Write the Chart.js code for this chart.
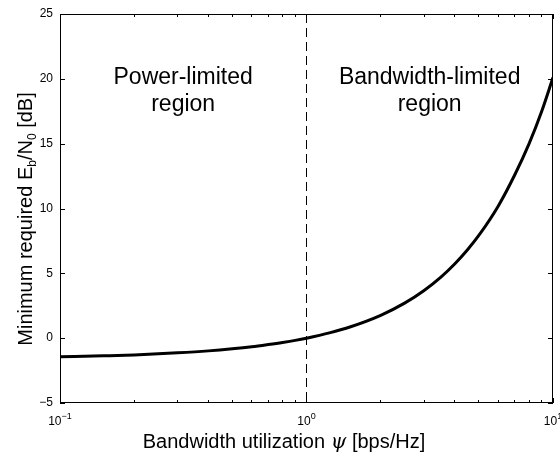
<!DOCTYPE html>
<html>
<head>
<meta charset="utf-8">
<script src="https://cdn.jsdelivr.net/npm/chart.js@4.4.1/dist/chart.umd.min.js"></script>
<style>
  html, body { margin: 0; padding: 0; background: #fff; }
  #wrap { width: 560px; height: 461px; position: relative; }
</style>
</head>
<body>
<div id="wrap"><canvas id="chart" width="560" height="461"></canvas></div>
<script>
"use strict";

// Shannon-limit curve: minimum Eb/N0 (dB) against bandwidth utilization (bps/Hz)
const psi = [0.1, 0.15, 0.2, 0.3, 0.4, 0.5, 0.6, 0.7, 0.8, 0.9, 1,
             1.25, 1.5, 2, 2.5, 3, 3.5, 4, 4.5, 5, 6, 7, 8, 9, 10];
const ebnoDb = [-1.44, -1.36, -1.29, -1.13, -0.98, -0.82, -0.66, -0.49, -0.33, -0.17, 0,
                0.43, 0.86, 1.76, 2.70, 3.68, 4.69, 5.74, 6.82, 7.92, 10.2, 12.6, 15.0, 17.5, 20.1];

// boundary between the two regions, drawn top-down
const boundaryX = [1, 1];
const boundaryY = [25, -5];

const xDecades = [0.1, 1, 10];
const xExponents = ["-1", "0", "1"];
const yTicks = [-5, 0, 5, 10, 15, 20, 25];

const regionLabels = [
  { x: 0.316, y: 19.6, lines: ["Power-limited", "region"] },
  { x: 3.16, y: 19.6, lines: ["Bandwidth-limited", "region"] },
];

const FONT = "'Liberation Sans', Arial, sans-serif";

const axesPlugin = {
  id: "matlabAxes",
  afterDraw(chart) {
    const { ctx, chartArea: a, scales: { x, y } } = chart;
    ctx.save();
    ctx.strokeStyle = "#000";
    ctx.fillStyle = "#000";
    ctx.lineWidth = 1;

    // box
    ctx.strokeRect(a.left + 0.5, a.top + 0.5, a.right - a.left - 1, a.bottom - a.top - 1);

    // log x ticks, inward on bottom and top
    ctx.beginPath();
    for (let d = 0; d < xDecades.length; d++) {
      const base = xDecades[d];
      for (let k = 1; k <= 9; k++) {
        const v = base * k;
        if (v > 10) break;
        const px = Math.floor(x.getPixelForValue(v)) + 0.5;
        const len = k === 1 ? 5 : 3;
        ctx.moveTo(px, a.bottom);
        ctx.lineTo(px, a.bottom - len);
        ctx.moveTo(px, a.top);
        ctx.lineTo(px, a.top + len);
      }
    }
    // y ticks, inward on left and right
    for (const v of yTicks) {
      const py = Math.round(y.getPixelForValue(v)) + 0.5;
      ctx.moveTo(a.left, py);
      ctx.lineTo(a.left + 5, py);
      ctx.moveTo(a.right, py);
      ctx.lineTo(a.right - 5, py);
    }
    ctx.stroke();

    // y tick labels
    ctx.font = `12px ${FONT}`;
    ctx.textAlign = "right";
    ctx.textBaseline = "middle";
    for (const v of yTicks) {
      const label = v < 0 ? "\u2212" + Math.abs(v) : String(v);
      ctx.fillText(label, a.left - 7, y.getPixelForValue(v));
    }

    // x tick labels: 10 with superscript exponent
    ctx.textBaseline = "alphabetic";
    ctx.textAlign = "left";
    xDecades.forEach((v, i) => {
      const px = x.getPixelForValue(v);
      ctx.font = `12px ${FONT}`;
      const wBase = ctx.measureText("10").width;
      ctx.font = `9px ${FONT}`;
      const exp = xExponents[i].replace("-", "\u2212");
      const wExp = ctx.measureText(exp).width;
      const start = px - (wBase + wExp) / 2;
      ctx.font = `12px ${FONT}`;
      ctx.fillText("10", start, a.bottom + 22);
      ctx.font = `9px ${FONT}`;
      ctx.fillText(exp, start + wBase, a.bottom + 16);
    });

    // region annotations
    ctx.font = `23px ${FONT}`;
    ctx.textAlign = "center";
    for (const r of regionLabels) {
      const px = x.getPixelForValue(r.x);
      const py = y.getPixelForValue(r.y);
      r.lines.forEach((t, i) => ctx.fillText(t, px, py + i * 27));
    }

    // x axis title, with italic psi
    const parts = [
      { t: "Bandwidth utilization ", f: `20px ${FONT}` },
      { t: "\u03c8", f: `italic 20px 'DejaVu Serif', serif` },
      { t: " [bps/Hz]", f: `20px ${FONT}` },
    ];
    let total = 0;
    for (const p of parts) { ctx.font = p.f; p.w = ctx.measureText(p.t).width; total += p.w; }
    let sx = 284 - total / 2;
    ctx.textAlign = "left";
    for (const p of parts) { ctx.font = p.f; ctx.fillText(p.t, sx, 448); sx += p.w; }

    // y axis title, rotated, with subscripts
    const yParts = [
      { t: "Minimum required E", f: `20px ${FONT}`, dy: 0 },
      { t: "b", f: `12px ${FONT}`, dy: 4 },
      { t: "/N", f: `20px ${FONT}`, dy: 0 },
      { t: "0", f: `12px ${FONT}`, dy: 4 },
      { t: " [dB]", f: `20px ${FONT}`, dy: 0 },
    ];
    let yTotal = 0;
    for (const p of yParts) { ctx.font = p.f; p.w = ctx.measureText(p.t).width; yTotal += p.w; }
    ctx.translate(32, 219);
    ctx.rotate(-Math.PI / 2);
    let tx = -yTotal / 2;
    for (const p of yParts) { ctx.font = p.f; ctx.fillText(p.t, tx, p.dy); tx += p.w; }

    ctx.restore();
  },
};

new Chart(document.getElementById("chart"), {
  type: "scatter",
  data: {
    datasets: [
      {
        label: "Shannon limit",
        data: psi.map((v, i) => ({ x: v, y: ebnoDb[i] })),
        showLine: true,
        borderColor: "#000",
        borderWidth: 3,
        pointRadius: 0,
        cubicInterpolationMode: "monotone",
      },
      {
        label: "boundary",
        data: boundaryX.map((v, i) => ({ x: v, y: boundaryY[i] })),
        showLine: true,
        borderColor: "#000",
        borderWidth: 1,
        borderDash: [9, 5],
        pointRadius: 0,
      },
    ],
  },
  options: {
    responsive: false,
    animation: false,
    devicePixelRatio: 1,
    layout: { padding: { left: 0, right: 7, top: 14, bottom: 0 } },
    plugins: { legend: { display: false }, tooltip: { enabled: false } },
    scales: {
      x: {
        type: "logarithmic",
        min: 0.1,
        max: 10,
        grid: { display: false },
        border: { display: false },
        ticks: { display: false },
        afterFit: (s) => { s.height = 58; },
      },
      y: {
        min: -5,
        max: 25,
        grid: { display: false },
        border: { display: false },
        ticks: { display: false },
        afterFit: (s) => { s.width = 60; },
      },
    },
  },
  plugins: [axesPlugin],
});
</script>
</body>
</html>
